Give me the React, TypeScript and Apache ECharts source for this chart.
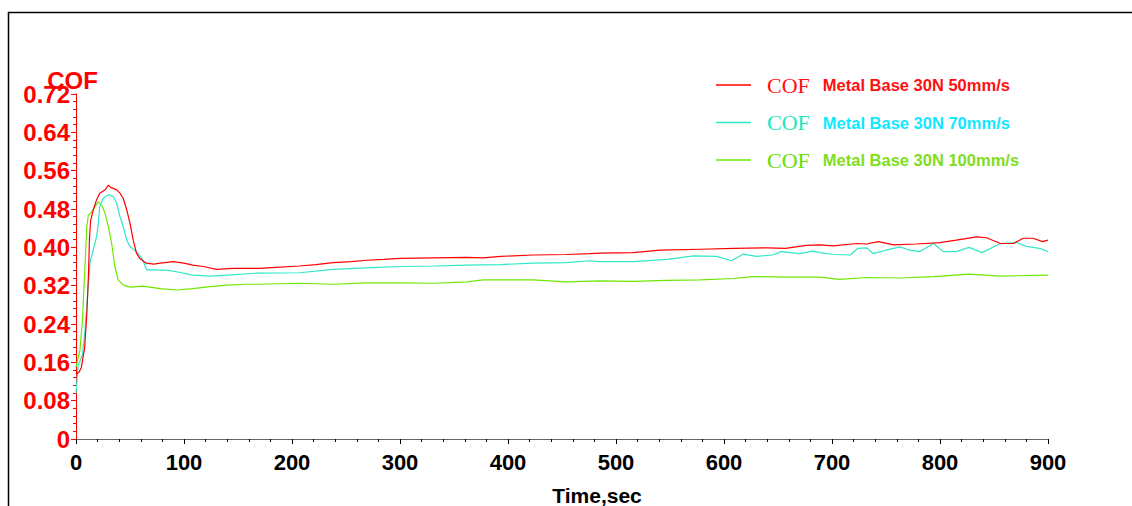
import React, { useEffect, useRef } from "react";
import * as echarts from "echarts";

// ---- data (time in sec, COF) ----
const redTime = [0, 3, 5, 8, 10, 11.5, 12.5, 13.5, 16, 19, 22, 27, 30, 32, 34.5, 37.7, 40.7, 43.8, 47, 50, 53, 56, 59, 65, 72, 78, 90, 100, 108, 118, 130, 145, 160, 170, 185, 207, 222, 238, 255, 269, 285, 300, 331, 362, 377, 393, 423, 454, 476, 485, 516, 541, 578, 609, 640, 657, 676, 689, 701, 723, 732, 743, 757, 778, 800, 815, 834, 843, 856, 868, 877, 886, 895, 900];
const redCOF = [0.135, 0.14, 0.15, 0.19, 0.26, 0.34, 0.42, 0.455, 0.478, 0.499, 0.513, 0.52, 0.53, 0.525, 0.523, 0.52, 0.513, 0.502, 0.478, 0.45, 0.415, 0.388, 0.377, 0.367, 0.365, 0.367, 0.37, 0.367, 0.363, 0.36, 0.354, 0.356, 0.356, 0.356, 0.358, 0.361, 0.364, 0.368, 0.37, 0.373, 0.375, 0.377, 0.378, 0.379, 0.378, 0.381, 0.384, 0.385, 0.387, 0.388, 0.389, 0.394, 0.396, 0.398, 0.399, 0.398, 0.404, 0.405, 0.403, 0.408, 0.407, 0.412, 0.405, 0.407, 0.41, 0.415, 0.422, 0.42, 0.408, 0.408, 0.419, 0.419, 0.412, 0.415];

const cyanTime = [0, 2, 6, 8.3, 11.4, 13, 16, 19, 20.7, 22, 25, 30, 34.5, 37.7, 40.7, 43.8, 47, 50, 56, 61, 65.5, 75, 85, 93, 108, 124, 140, 167, 207, 238, 269, 300, 331, 362, 393, 423, 454, 476, 485, 516, 547, 572, 593, 607, 618, 630, 645, 653, 670, 682, 689, 701, 717, 724, 732, 738, 750, 763, 772, 781, 794, 803, 815, 827, 839, 856, 871, 880, 892, 900];
const cyanCOF = [0.095, 0.154, 0.175, 0.227, 0.32, 0.37, 0.394, 0.422, 0.45, 0.485, 0.502, 0.51, 0.506, 0.492, 0.464, 0.443, 0.415, 0.401, 0.391, 0.377, 0.353, 0.353, 0.352, 0.349, 0.342, 0.34, 0.342, 0.346, 0.347, 0.354, 0.357, 0.36, 0.361, 0.363, 0.364, 0.367, 0.368, 0.372, 0.37, 0.37, 0.375, 0.382, 0.381, 0.372, 0.386, 0.381, 0.384, 0.391, 0.387, 0.392, 0.389, 0.385, 0.384, 0.398, 0.399, 0.387, 0.394, 0.401, 0.394, 0.391, 0.408, 0.391, 0.391, 0.4, 0.389, 0.408, 0.41, 0.402, 0.398, 0.391];

const greenTime = [0, 3.7, 6.2, 6.8, 8.3, 10, 11.4, 14.5, 17.6, 20.7, 23.8, 26.9, 30, 33, 36, 39, 44, 50, 62, 78, 93, 108, 124, 140, 158, 170, 207, 238, 269, 300, 331, 362, 377, 393, 423, 454, 485, 516, 547, 578, 609, 627, 657, 689, 707, 732, 763, 794, 827, 856, 900];
const greenCOF = [0.15, 0.186, 0.255, 0.29, 0.36, 0.443, 0.467, 0.474, 0.485, 0.495, 0.488, 0.471, 0.443, 0.408, 0.36, 0.332, 0.321, 0.317, 0.319, 0.314, 0.311, 0.314, 0.318, 0.321, 0.323, 0.323, 0.325, 0.323, 0.326, 0.326, 0.325, 0.328, 0.332, 0.332, 0.332, 0.328, 0.33, 0.329, 0.331, 0.332, 0.335, 0.339, 0.338, 0.338, 0.333, 0.337, 0.336, 0.339, 0.344, 0.34, 0.342];

const seriesNames = [
  "COF Metal Base 30N 50mm/s",
  "COF Metal Base 30N 70mm/s",
  "COF Metal Base 30N 100mm/s",
];
const legendLabels = ["Metal Base 30N 50mm/s", "Metal Base 30N 70mm/s", "Metal Base 30N 100mm/s"];

const lineColors = ["#ff0000", "#2ee8c8", "#6ee800"];
const cofColors = ["#ff1010", "#20e8b8", "#66dd00"];
const textColors = ["#ff1010", "#10e8ff", "#80dd20"];

const FONT = "'Liberation Sans', Arial, sans-serif";

function zip(t: number[], v: number[]) {
  return t.map((x, i) => [x, v[i]]);
}

export default function App() {
  const ref = useRef<HTMLDivElement>(null);
  useEffect(() => {
    if (!ref.current) return;
    const chart = echarts.init(ref.current, null, { renderer: "svg" });
    const rich: any = {};
    for (let i = 0; i < 3; i++) {
      rich["c" + i] = {
        fontFamily: "'Liberation Serif', 'Times New Roman', serif",
        fontSize: 22,
        color: cofColors[i],
        padding: [0, 13, 0, 11],
      };
      rich["m" + i] = {
        fontFamily: FONT,
        fontSize: 16.5,
        fontWeight: "bold",
        color: textColors[i],
      };
    }
    const datas = [zip(redTime, redCOF), zip(cyanTime, cyanCOF), zip(greenTime, greenCOF)];
    chart.setOption({
      animation: false,
      backgroundColor: "#ffffff",
      grid: {
        left: 76,
        right: 84,
        top: 94,
        bottom: 67,
        containLabel: false,
        outerBoundsMode: "none",
      },
      graphic: [
        {
          type: "rect",
          shape: { x: 8.5, y: 12.5, width: 1200, height: 600 },
          style: { fill: "none", stroke: "#000", lineWidth: 1.5 },
          silent: true,
        },
      ],
      legend: {
        orient: "vertical",
        left: 716,
        top: 74,
        padding: 0,
        icon: "rect",
        itemWidth: 35,
        itemHeight: 1.5,
        itemGap: 15.5,
        data: seriesNames,
        formatter: (name: string) => {
          const i = seriesNames.indexOf(name);
          return `{c${i}|COF}{m${i}|${legendLabels[i]}}`;
        },
        textStyle: { rich },
      },
      xAxis: {
        type: "value",
        min: 0,
        max: 900,
        interval: 100,
        name: "Time,sec",
        nameLocation: "middle",
        nameGap: 46,
        nameMoveOverlap: false,
        nameTextStyle: {
          fontFamily: FONT,
          fontSize: 21,
          fontWeight: "bold",
          color: "#000",
          padding: [0, 0, 0, 70],
        },
        axisLine: { show: true, onZero: false, lineStyle: { color: "#666", width: 1 } },
        axisTick: { show: true, length: 5, lineStyle: { color: "#000" } },
        minorTick: { show: true, splitNumber: 5, length: 3, lineStyle: { color: "#000" } },
        splitLine: { show: false },
        axisLabel: {
          fontFamily: FONT,
          fontSize: 22,
          fontWeight: "bold",
          color: "#000",
          margin: 12,
        },
      },
      yAxis: {
        type: "value",
        min: 0,
        max: 0.72,
        interval: 0.08,
        name: "COF",
        nameLocation: "end",
        nameGap: 14,
        nameMoveOverlap: false,
        nameTextStyle: {
          fontFamily: FONT,
          fontSize: 24,
          fontWeight: "bold",
          color: "#ff0000",
          verticalAlign: "middle",
          padding: [0, 7, 0, 0],
        },
        axisLine: { show: true, lineStyle: { color: "#ff0000", width: 1 } },
        axisTick: { show: true, length: 5, lineStyle: { color: "#ff0000" } },
        minorTick: { show: true, splitNumber: 5, length: 3, lineStyle: { color: "#ff0000" } },
        splitLine: { show: false },
        axisLabel: {
          fontFamily: FONT,
          fontSize: 24,
          fontWeight: "bold",
          color: "#ff0000",
          margin: 6,
          formatter: (v: number) => (Math.abs(v) < 1e-9 ? "0" : v.toFixed(2)),
        },
      },
      series: seriesNames.map((name, i) => ({
        name,
        type: "line",
        data: datas[i],
        showSymbol: false,
        symbol: "none",
        lineStyle: { color: lineColors[i], width: 1.2 },
        itemStyle: { color: lineColors[i] },
        z: 3 - i,
      })),
    });
    return () => chart.dispose();
  }, []);
  return (
    <div
      ref={ref}
      style={{ position: "absolute", left: 0, top: 0, width: 1132, height: 506 }}
    />
  );
}
